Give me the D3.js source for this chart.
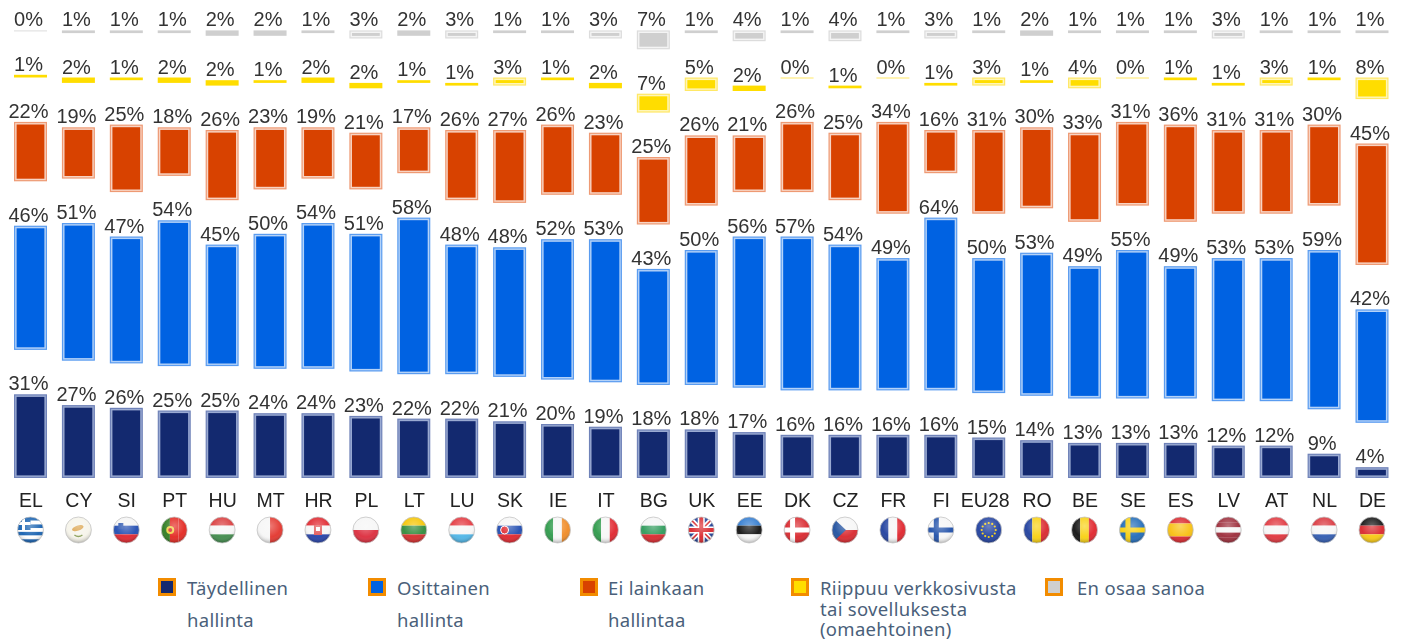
<!DOCTYPE html>
<html>
<head>
<meta charset="utf-8">
<script src="https://cdn.jsdelivr.net/npm/d3@7"></script>
<style>
  html, body { margin: 0; padding: 0; background: #fff; }
  svg { display: block; }
</style>
</head>
<body>
<svg id="chart" width="1402" height="641"></svg>
<script>
const countries = ["EL","CY","SI","PT","HU","MT","HR","PL","LT","LU","SK","IE","IT","BG","UK","EE","DK","CZ","FR","FI","EU28","RO","BE","SE","ES","LV","AT","NL","DE"];

const full    = [31,27,26,25,25,24,24,23,22,22,21,20,19,18,18,17,16,16,16,16,15,14,13,13,13,12,12,9,4];
const partial = [46,51,47,54,45,50,54,51,58,48,48,52,53,43,50,56,57,54,49,64,50,53,49,55,49,53,53,59,42];
const none    = [22,19,25,18,26,23,19,21,17,26,27,26,23,25,26,21,26,25,34,16,31,30,33,31,36,31,31,30,45];
const depends = [1,2,1,2,2,1,2,2,1,1,3,1,2,7,5,2,0,1,0,1,3,1,4,0,1,1,3,1,8];
const dontKnow = [0,1,1,1,2,2,1,3,2,3,1,1,3,7,1,4,1,4,1,3,1,2,1,1,1,3,1,1,1];

const seriesKeys = ["full","partial","none","depends","dontKnow"];
const seriesFill = ["#13296f","#0062e2","#d84200","#ffdd00","#cfcfcf"];
const seriesEdge = ["#6f82b8","#5a9cf0","#ee9a74","#ffe866","#dcdcdc"];
const seriesGap  = ["#9aaad2","#b4d2f8","#f8d4c4","#fff6b8","#f4f4f4"];

const legendLabels = [
  ["Täydellinen","hallinta"],
  ["Osittainen","hallinta"],
  ["Ei lainkaan","hallintaa"],
  ["Riippuu verkkosivusta","tai sovelluksesta","(omaehtoinen)"],
  ["En osaa sanoa"]
];

// stripes of each flag: direction, colours
const flagStripes = {
  EL:["h",["#1560b0","#fff","#1560b0","#fff","#1560b0","#fff","#1560b0"]],
  CY:["h",["#f6f4ea"]],
  SI:["h",["#f4f4f4","#1f4bb0","#e0242c"]],
  PT:["v",["#2c7a1e","#e3261f","#e3261f"]],
  HU:["h",["#d9393a","#f6f6f6","#3f8a4a"]],
  MT:["v",["#f6f6f6","#e3342c"]],
  HR:["h",["#e0242c","#f6f6f6","#2340a8"]],
  PL:["h",["#f6f6f6","#dc2b3c"]],
  LT:["h",["#f5c400","#2f8a3a","#d42a2a"]],
  LU:["h",["#e3343c","#f6f6f6","#4db4e6"]],
  SK:["h",["#f6f6f6","#1f4bb0","#e0242c"]],
  IE:["v",["#2d9a4a","#f6f6f6","#f08a24"]],
  IT:["v",["#2d9a4a","#f6f6f6","#e0242c"]],
  BG:["h",["#f6f6f6","#2d9a5a","#d9262c"]],
  UK:["h",["#1f3f94"]],
  EE:["h",["#2f7ad0","#111","#f6f6f6"]],
  DK:["h",["#d9262c"]],
  CZ:["h",["#f6f6f6","#d9262c"]],
  FR:["v",["#1f3f9e","#f6f6f6","#e0242c"]],
  FI:["h",["#f6f6f6"]],
  EU28:["h",["#1f3f9e"]],
  RO:["v",["#1f3f9e","#f8d010","#d9262c"]],
  BE:["v",["#111","#f8d010","#e0242c"]],
  SE:["h",["#1f6ab8"]],
  ES:["h",["#d9262c","#f8c010","#f8c010","#d9262c"]],
  LV:["h",["#9c2a38","#9c2a38","#f6f6f6","#9c2a38","#9c2a38"]],
  AT:["h",["#e0343c","#f6f6f6","#e0343c"]],
  NL:["h",["#d9343c","#f6f6f6","#2f5ab0"]],
  DE:["h",["#111","#d9262c","#f8c810"]]
};
const flagCrosses = { DK:"#fff", FI:"#1f4fa8", SE:"#f8d010" };

const width = 1402, height = 641;
const barWidth = 33, gap = 44.4, flagR = 13;

const svg = d3.select("#chart");
const defs = svg.append("defs");

const x = d3.scalePoint()
  .domain(countries)
  .range([30.5, 1372]);

const y = d3.scaleLinear()
  .domain([0, 100])
  .range([478, 208]);

const rows = countries.map((c, i) => ({
  country: c,
  full: full[i], partial: partial[i], none: none[i], depends: depends[i], dontKnow: dontKnow[i]
}));

const data = d3.stack().keys(seriesKeys)(rows);

const chart = svg.append("g").style("filter", "blur(0.45px)");

const subgroup = chart.selectAll(".subgroup")
  .data(data)
  .join("g")
  .attr("class", "subgroup");

// one bar = light outline, pale gap, solid core; thin ones are only a solid strip
subgroup.each(function(s, si) {
  const g = d3.select(this);
  const top = d => y(d[1]) - gap * si;
  const bottom = d => y(d[0]) - gap * si;
  const h = d => bottom(d) - top(d);

  const bars = g.selectAll("g").data(s).join("g")
    .attr("transform", d => `translate(${x(d.data.country) - barWidth / 2},${top(d)})`);

  bars.filter(d => h(d) > 7).append("rect")
    .attr("x", 0.6).attr("y", 0.6)
    .attr("width", barWidth - 1.2)
    .attr("height", d => h(d) - 1.2)
    .attr("fill", seriesGap[si])
    .attr("stroke", seriesEdge[si])
    .attr("stroke-width", 1.2);

  bars.filter(d => h(d) > 7).append("rect")
    .attr("x", 2.6).attr("y", 2.6)
    .attr("width", barWidth - 5.2)
    .attr("height", d => h(d) - 5.2)
    .attr("fill", seriesFill[si]);

  bars.filter(d => h(d) <= 7).append("rect")
    .attr("width", barWidth)
    .attr("height", d => Math.max(h(d), 1))
    .attr("fill", d => h(d) > 0 ? seriesFill[si] : seriesEdge[si]);

  g.selectAll("text").data(s).join("text")
    .attr("x", d => x(d.data.country) - 2)
    .attr("y", d => top(d) - 4)
    .attr("text-anchor", "middle")
    .attr("font-family", "'Liberation Sans', Arial, sans-serif")
    .attr("font-size", 20)
    .attr("fill", "#333")
    .text(d => (d[1] - d[0]) + "%");
});

// country codes
const xAxis = d3.axisBottom(x).tickSize(0).tickPadding(0);
const axisG = chart.append("g")
  .attr("transform", "translate(0,493)")
  .call(xAxis);
axisG.select(".domain").remove();
axisG.selectAll("text")
  .attr("font-family", "'Liberation Sans', Arial, sans-serif")
  .attr("font-size", 19.5)
  .attr("fill", "#222")
  .attr("dx", d => d === "EU28" ? -4 : 0);

// flags
const gloss = defs.append("radialGradient").attr("id", "gloss")
  .attr("cx", "50%").attr("cy", "35%").attr("r", "65%");
gloss.append("stop").attr("offset", "0%").attr("stop-color", "#fff").attr("stop-opacity", 0.35);
gloss.append("stop").attr("offset", "65%").attr("stop-color", "#fff").attr("stop-opacity", 0.05);
gloss.append("stop").attr("offset", "100%").attr("stop-color", "#000").attr("stop-opacity", 0.28);

defs.append("clipPath").attr("id", "flagClip")
  .append("circle").attr("r", flagR);

const flags = chart.selectAll(".flag")
  .data(countries)
  .join("g")
  .attr("class", "flag")
  .attr("transform", d => `translate(${x(d)},530)`);

flags.each(function(c) {
  const g = d3.select(this).append("g").attr("clip-path", "url(#flagClip)");
  const [dir, colors] = flagStripes[c];
  const band = d3.scaleBand().domain(d3.range(colors.length)).range([-flagR, flagR]);
  g.selectAll("rect").data(colors).join("rect")
    .attr("x", (d, i) => dir === "v" ? band(i) : -flagR)
    .attr("y", (d, i) => dir === "h" ? band(i) : -flagR)
    .attr("width", dir === "v" ? band.bandwidth() : flagR * 2)
    .attr("height", dir === "h" ? band.bandwidth() : flagR * 2)
    .attr("fill", d => d);

  if (flagCrosses[c]) {
    g.append("rect").attr("x", -7).attr("y", -flagR).attr("width", 5).attr("height", flagR * 2).attr("fill", flagCrosses[c]);
    g.append("rect").attr("x", -flagR).attr("y", -2.5).attr("width", flagR * 2).attr("height", 5).attr("fill", flagCrosses[c]);
  }
  if (c === "EL") {
    g.append("rect").attr("x", -flagR).attr("y", -flagR).attr("width", 13).attr("height", 13).attr("fill", "#1560b0");
    g.append("rect").attr("x", -8.5).attr("y", -flagR).attr("width", 3).attr("height", 13).attr("fill", "#fff");
    g.append("rect").attr("x", -flagR).attr("y", -8).attr("width", 13).attr("height", 3).attr("fill", "#fff");
  }
  if (c === "CY") {
    g.append("ellipse").attr("rx", 6).attr("ry", 2.6).attr("cy", -2).attr("transform", "rotate(-18)").attr("fill", "#dba24a");
    g.append("path").attr("d", "M-4,5Q0,8 4,5").attr("fill", "none").attr("stroke", "#8aa05a").attr("stroke-width", 1.4);
  }
  if (c === "PT") {
    g.append("circle").attr("cx", -4).attr("r", 4).attr("fill", "#f0d040");
    g.append("circle").attr("cx", -4).attr("r", 2).attr("fill", "#d9262c");
  }
  if (c === "HR") {
    g.append("rect").attr("x", -4).attr("y", -5).attr("width", 8).attr("height", 10).attr("fill", "#e05050");
    g.append("rect").attr("x", -2).attr("y", -3).attr("width", 4).attr("height", 4).attr("fill", "#fff");
  }
  if (c === "SI") {
    g.append("rect").attr("x", -8).attr("y", -7).attr("width", 5).attr("height", 6).attr("fill", "#2a55b0");
  }
  if (c === "SK") {
    g.append("circle").attr("cx", -5).attr("r", 4).attr("fill", "#e0242c").attr("stroke", "#fff");
  }
  if (c === "CZ") {
    g.append("path").attr("d", "M-13,-13L1,0L-13,13Z").attr("fill", "#1f4f9e");
  }
  if (c === "UK") {
    g.append("path").attr("d", "M-13,-13L13,13M13,-13L-13,13").attr("stroke", "#fff").attr("stroke-width", 5);
    g.append("path").attr("d", "M-13,-13L13,13M13,-13L-13,13").attr("stroke", "#d9262c").attr("stroke-width", 1.6);
    g.append("path").attr("d", "M0,-13V13M-13,0H13").attr("stroke", "#fff").attr("stroke-width", 7);
    g.append("path").attr("d", "M0,-13V13M-13,0H13").attr("stroke", "#d9262c").attr("stroke-width", 4);
  }
  if (c === "EU28") {
    g.selectAll("circle.star").data(d3.range(12)).join("circle")
      .attr("class", "star")
      .attr("r", 1.1)
      .attr("cx", d => 7 * Math.cos(d * Math.PI / 6))
      .attr("cy", d => 7 * Math.sin(d * Math.PI / 6))
      .attr("fill", "#f8d010");
  }
  g.append("circle").attr("r", flagR).attr("fill", "url(#gloss)");
  d3.select(this).append("circle").attr("r", flagR).attr("fill", "none").attr("stroke", "#c4c4c4").attr("stroke-width", 0.8);
});

// legend
const legendX = [158, 368, 580, 791, 1045];
const legendTextX = [187, 397, 608, 820, 1077];
const legendLineY = [[595, 627], [595, 627], [595, 627], [595, 615.5, 635.5], [595]];
const legendFill = seriesFill;

const legend = svg.append("g").selectAll("g")
  .data(legendLabels)
  .join("g");

legend.append("rect")
  .attr("x", (d, i) => legendX[i] + 1.5)
  .attr("y", 579.5)
  .attr("width", 15)
  .attr("height", 15)
  .attr("fill", (d, i) => legendFill[i])
  .attr("stroke", "#f28c00")
  .attr("stroke-width", 3);

legend.each(function(lines, i) {
  d3.select(this).selectAll("text").data(lines).join("text")
    .attr("x", legendTextX[i])
    .attr("y", (d, j) => legendLineY[i][j])
    .attr("font-family", "'Noto Sans', sans-serif")
    .attr("font-size", 18.5)
    .attr("letter-spacing", 0.3)
    .attr("fill", "#4a5f7a")
    .text(d => d);
});
</script>
</body>
</html>
